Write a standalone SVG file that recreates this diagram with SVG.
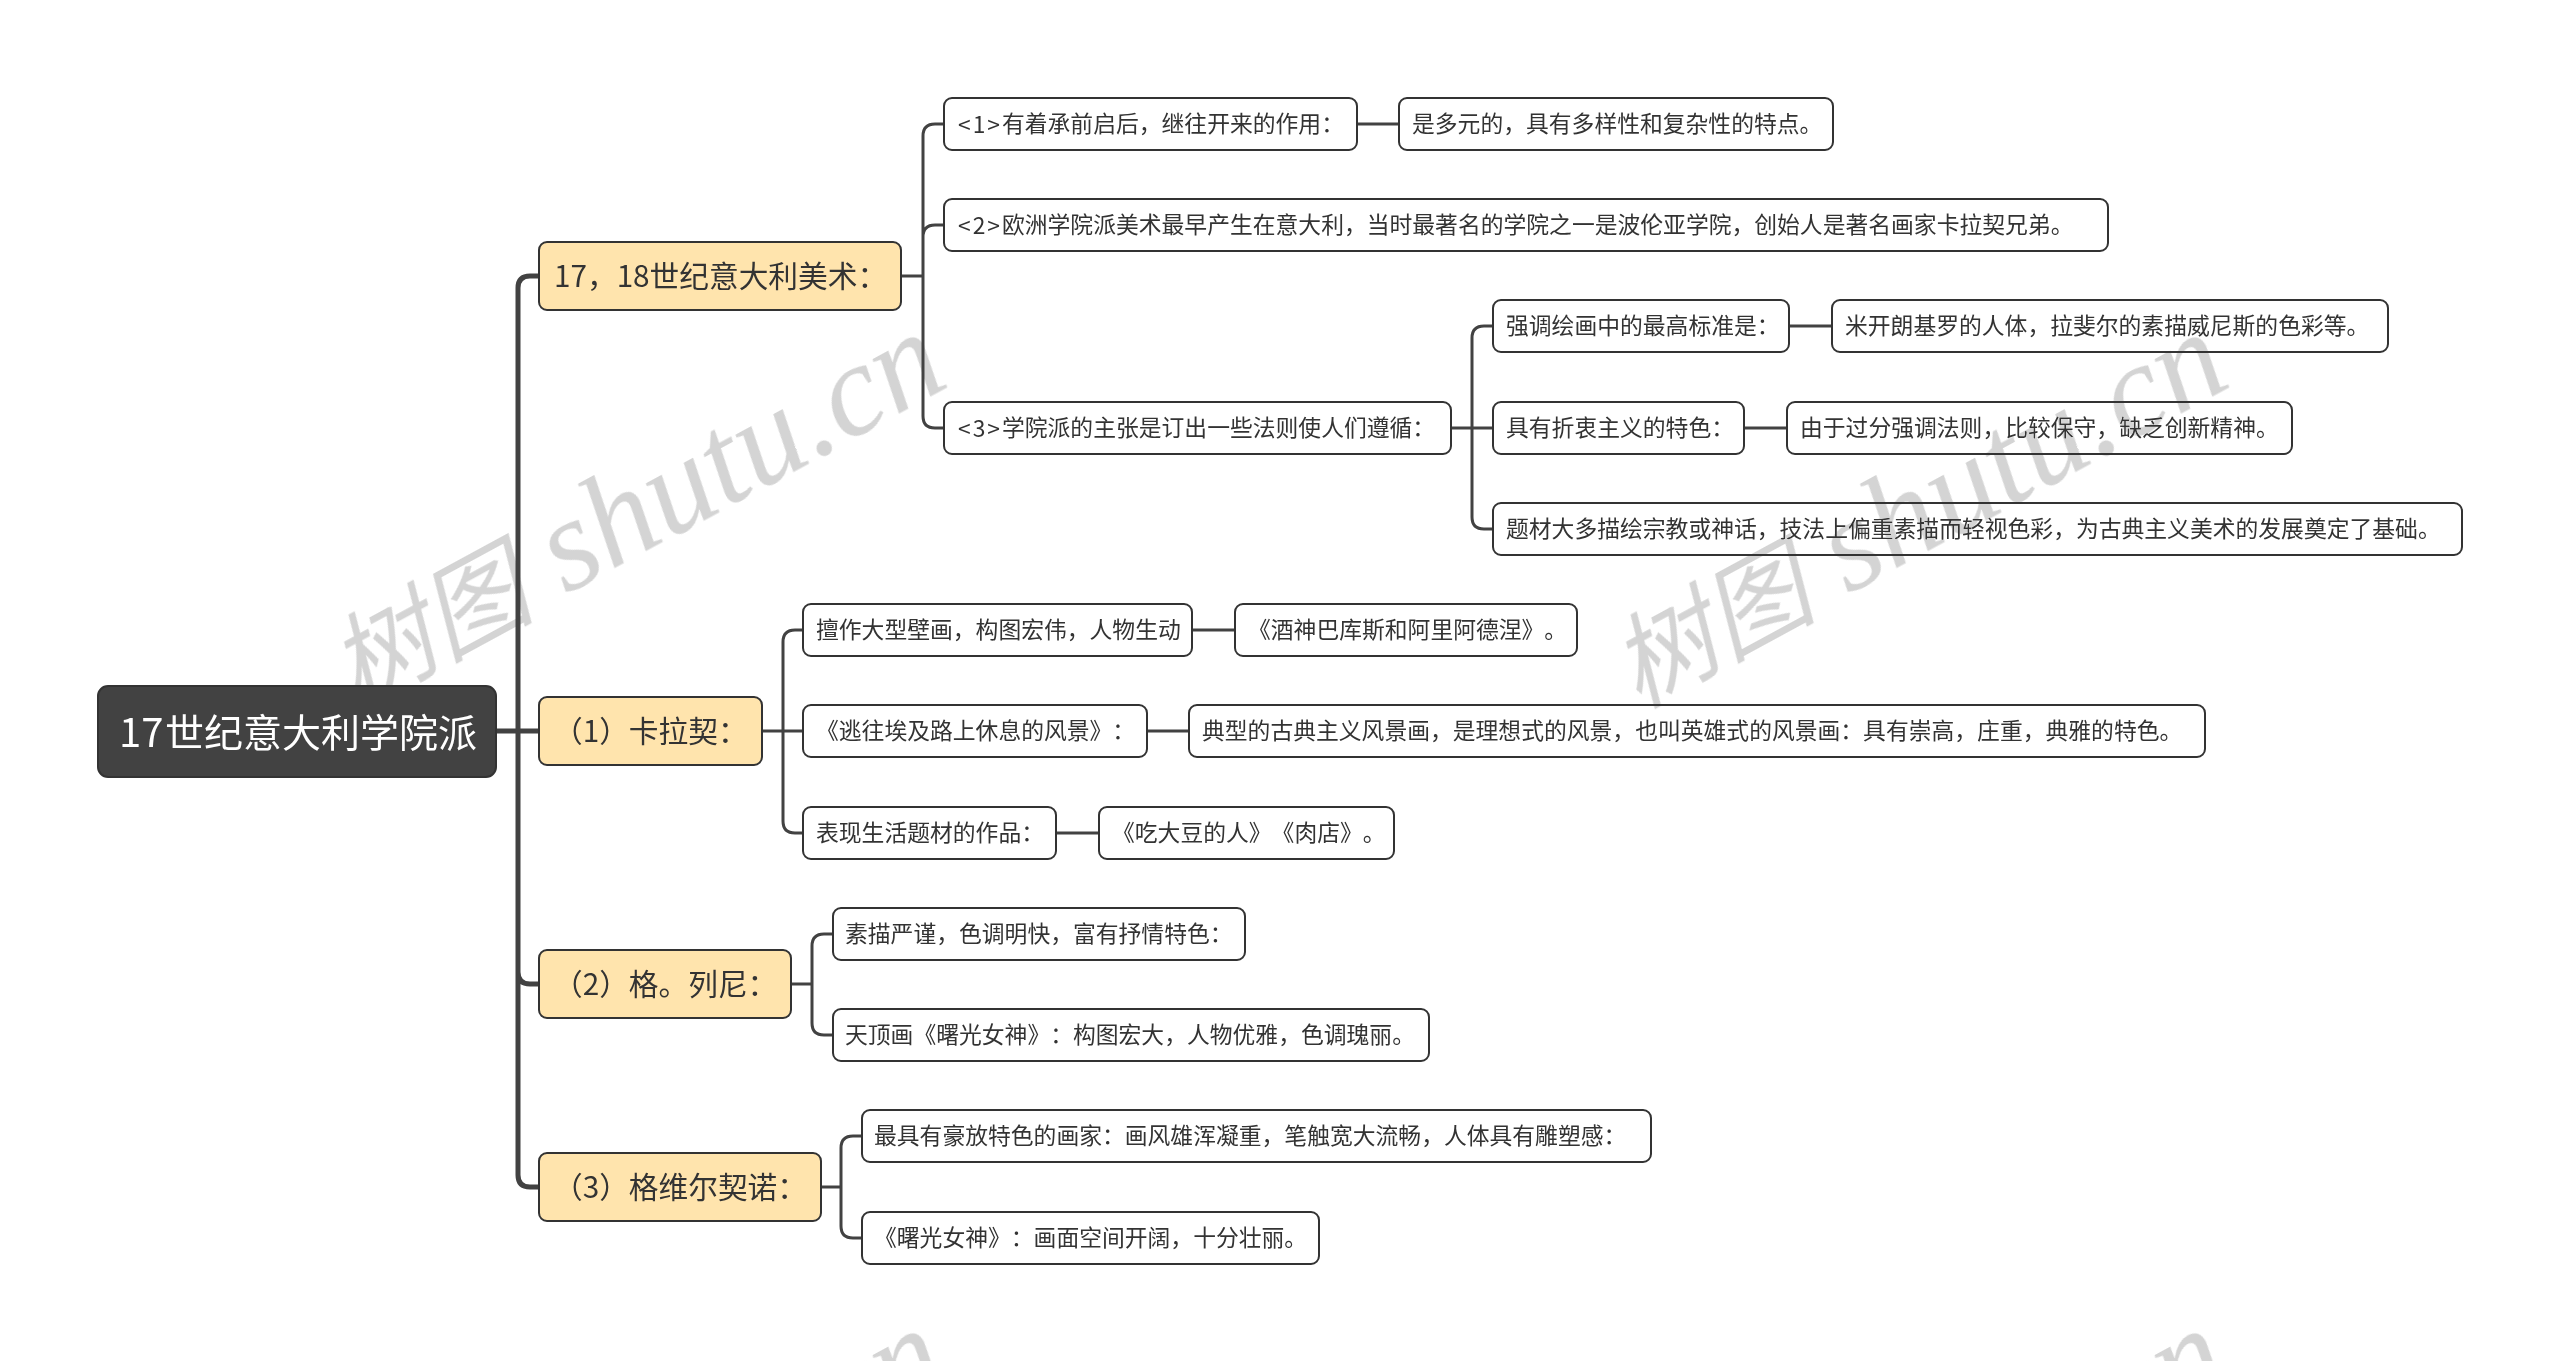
<svg xmlns="http://www.w3.org/2000/svg" width="2560" height="1361" viewBox="0 0 2560 1361">
<style>
text{font-family:"Noto Sans CJK SC","Noto Sans",sans-serif;dominant-baseline:central;text-spacing-trim:space-all;font-kerning:none}
.r{fill:#424242;stroke:#333;stroke-width:2}
.b{fill:#ffe4ad;stroke:#333;stroke-width:2}
.s{fill:#fff;stroke:#333;stroke-width:2}
.rt{font-size:40px;fill:#fff;transform:translateY(-1.5px)}
.bt{font-size:29.7px;fill:#333;transform:translateY(-1.5px)}
.st{font-size:22.8px;fill:#333;transform:translateY(-1.5px)}
.l{letter-spacing:2px}
.c{fill:none;stroke:#424242;stroke-width:3}
.t{stroke-width:5}
#watermark{mix-blend-mode:darken}
.wm{font-family:"Liberation Serif","Noto Sans CJK SC",serif;font-style:italic;font-size:131px;fill:#d4d4d4;dominant-baseline:auto}
.wc{font-family:"Noto Sans CJK SC",serif;font-size:103px}
</style>
<g id="connectors">
<path class="c t" d="M496,731H518M539,276H530Q518,276 518,288V1175Q518,1187 530,1187H539M518,731H539M518,972Q518,984 530,984H539"/>
<path class="c" d="M901,276H923M944,124H935Q923,124 923,136V416Q923,428 935,428H944M923,237Q923,225 935,225H944"/>
<path class="c" d="M1357,124H1399"/>
<path class="c" d="M1451,428H1493M1493,326H1484Q1472,326 1472,338V517Q1472,529 1484,529H1493"/>
<path class="c" d="M1789,326H1832M1744,428H1787"/>
<path class="c" d="M762,731H803M803,630H795Q783,630 783,642V821Q783,833 795,833H803"/>
<path class="c" d="M1192,630H1235M1147,731H1189M1056,833H1099"/>
<path class="c" d="M791,984H812M833,934H824Q812,934 812,946V1023Q812,1035 824,1035H833"/>
<path class="c" d="M821,1187H841M862,1136H853Q841,1136 841,1148V1226Q841,1238 853,1238H862"/>
</g>
<g id="root"><rect class="r" x="98" y="686" width="398" height="91" rx="10"/><text class="rt" x="119" y="731">17<tspan x="165" font-size="39">世纪意大利学院派</tspan></text></g>
<g id="n1"><rect class="b" x="539" y="242" width="362" height="68" rx="8"/><text class="bt" x="554" y="276">17，18世纪意大利美术：</text></g>
<g id="n2"><rect class="b" x="539" y="697" width="223" height="68" rx="8"/><text class="bt" x="553" y="731">（1）卡拉契：</text></g>
<g id="n3"><rect class="b" x="539" y="950" width="252" height="68" rx="8"/><text class="bt" x="553" y="984">（2）格。列尼：</text></g>
<g id="n4"><rect class="b" x="539" y="1153" width="282" height="68" rx="8"/><text class="bt" x="553" y="1187">（3）格维尔契诺：</text></g>
<g id="a1"><rect class="s" x="944" y="98" width="413" height="52" rx="8"/><text class="st" x="958" y="124"><tspan class="l">&lt;1&gt;</tspan>有着承前启后，继往开来的作用：</text></g>
<g id="a1a"><rect class="s" x="1399" y="98" width="434" height="52" rx="8"/><text class="st" x="1412" y="124">是多元的，具有多样性和复杂性的特点。</text></g>
<g id="a2"><rect class="s" x="944" y="199" width="1164" height="52" rx="8"/><text class="st" x="958" y="225"><tspan class="l">&lt;2&gt;</tspan>欧洲学院派美术最早产生在意大利，当时最著名的学院之一是波伦亚学院，创始人是著名画家卡拉契兄弟。</text></g>
<g id="a3"><rect class="s" x="944" y="402" width="507" height="52" rx="8"/><text class="st" x="958" y="428"><tspan class="l">&lt;3&gt;</tspan>学院派的主张是订出一些法则使人们遵循：</text></g>
<g id="b1"><rect class="s" x="1493" y="300" width="296" height="52" rx="8"/><text class="st" x="1506" y="326">强调绘画中的最高标准是：</text></g>
<g id="b1a"><rect class="s" x="1832" y="300" width="556" height="52" rx="8"/><text class="st" x="1845" y="326">米开朗基罗的人体，拉斐尔的素描威尼斯的色彩等。</text></g>
<g id="b2"><rect class="s" x="1493" y="402" width="251" height="52" rx="8"/><text class="st" x="1506" y="428">具有折衷主义的特色：</text></g>
<g id="b2a"><rect class="s" x="1787" y="402" width="505" height="52" rx="8"/><text class="st" x="1800" y="428">由于过分强调法则，比较保守，缺乏创新精神。</text></g>
<g id="b3"><rect class="s" x="1493" y="503" width="969" height="52" rx="8"/><text class="st" x="1506" y="529">题材大多描绘宗教或神话，技法上偏重素描而轻视色彩，为古典主义美术的发展奠定了基础。</text></g>
<g id="c1"><rect class="s" x="803" y="604" width="389" height="52" rx="8"/><text class="st" x="816" y="630">擅作大型壁画，构图宏伟，人物生动</text></g>
<g id="c1a"><rect class="s" x="1235" y="604" width="342" height="52" rx="8"/><text class="st" x="1248" y="630">《酒神巴库斯和阿里阿德涅》。</text></g>
<g id="c2"><rect class="s" x="803" y="705" width="344" height="52" rx="8"/><text class="st" x="816" y="731">《逃往埃及路上休息的风景》：</text></g>
<g id="c2a"><rect class="s" x="1189" y="705" width="1016" height="52" rx="8"/><text class="st" x="1202" y="731">典型的古典主义风景画，是理想式的风景，也叫英雄式的风景画：具有崇高，庄重，典雅的特色。</text></g>
<g id="c3"><rect class="s" x="803" y="807" width="253" height="52" rx="8"/><text class="st" x="816" y="833">表现生活题材的作品：</text></g>
<g id="c3a"><rect class="s" x="1099" y="807" width="295" height="52" rx="8"/><text class="st" x="1112" y="833">《吃大豆的人》《肉店》。</text></g>
<g id="d1"><rect class="s" x="833" y="908" width="412" height="52" rx="8"/><text class="st" x="845" y="934">素描严谨，色调明快，富有抒情特色：</text></g>
<g id="d2"><rect class="s" x="833" y="1009" width="596" height="52" rx="8"/><text class="st" x="845" y="1035">天顶画《曙光女神》：构图宏大，人物优雅，色调瑰丽。</text></g>
<g id="e1"><rect class="s" x="862" y="1110" width="789" height="52" rx="8"/><text class="st" x="874" y="1136">最具有豪放特色的画家：画风雄浑凝重，笔触宽大流畅，人体具有雕塑感：</text></g>
<g id="e2"><rect class="s" x="862" y="1212" width="457" height="52" rx="8"/><text class="st" x="874" y="1238">《曙光女神》：画面空间开阔，十分壮丽。</text></g>
<g id="watermark">
<text class="wm" transform="translate(356,709) rotate(-28.5)"><tspan class="wc">树图</tspan> shutu.cn</text>
<text class="wm" transform="translate(1638,709) rotate(-28.5)"><tspan class="wc">树图</tspan> shutu.cn</text>
<text class="wm" transform="translate(356,1705) rotate(-28.5)"><tspan class="wc">树图</tspan> shutu.cn</text>
<text class="wm" transform="translate(1638,1705) rotate(-28.5)"><tspan class="wc">树图</tspan> shutu.cn</text>
</g>
</svg>
